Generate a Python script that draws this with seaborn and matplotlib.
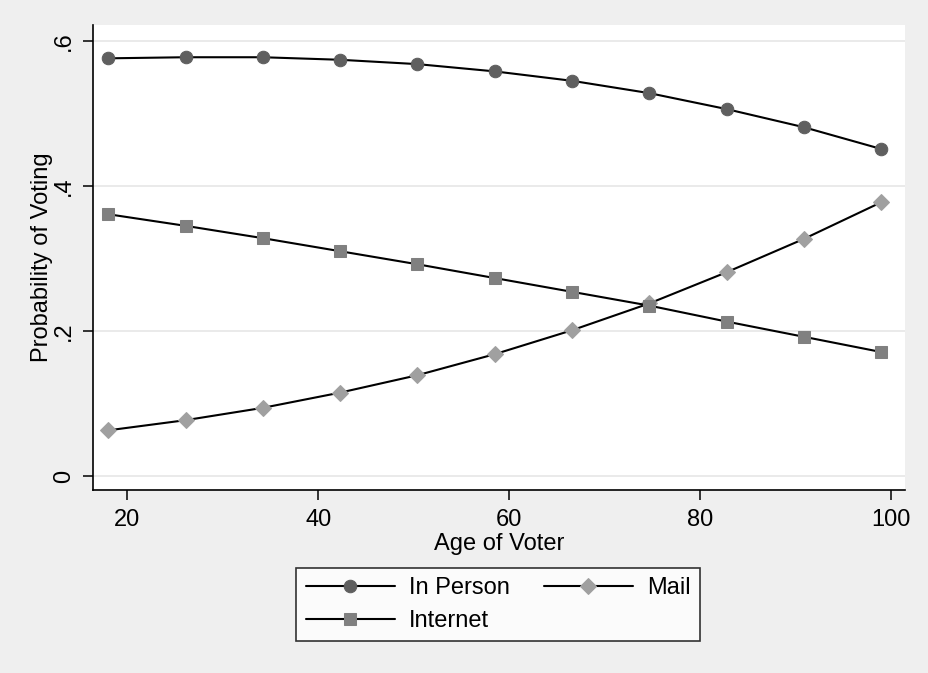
import numpy as np
import pandas as pd
import seaborn as sns
import matplotlib.pyplot as plt

# predicted probabilities by age
age = [18, 26.1, 34.2, 42.3, 50.4, 58.5, 66.6, 74.7, 82.8, 90.9, 99]
in_person = [0.576, 0.5775, 0.5775, 0.574, 0.568, 0.558, 0.545, 0.528, 0.506, 0.481, 0.451]
mail = [0.063, 0.077, 0.094, 0.115, 0.139, 0.168, 0.201, 0.238, 0.281, 0.327, 0.3775]
internet = [0.361, 0.345, 0.328, 0.310, 0.292, 0.273, 0.254, 0.235, 0.213, 0.192, 0.171]

y_ticks = [0, 0.2, 0.4, 0.6]
y_labels = ['0', '.2', '.4', '.6']
x_ticks = [20, 40, 60, 80, 100]

df = pd.DataFrame({'Age': age, 'In Person': in_person, 'Mail': mail, 'Internet': internet})

sns.set_style('white')
plt.rcParams['font.family'] = ['Liberation Sans', 'DejaVu Sans']
plt.rcParams['text.color'] = 'black'
plt.rcParams['axes.labelcolor'] = 'black'
plt.rcParams['xtick.color'] = 'black'
plt.rcParams['ytick.color'] = 'black'
fs = 17

fig = plt.figure(figsize=(9.29, 6.73), dpi=100, facecolor='#efefef')
ax = fig.add_axes([0.1001, 0.2719, 0.8741, 0.691])
ax.set_facecolor('white')

styles = {
    'In Person': dict(marker='o', color='#5f5f5f', ms=9),
    'Mail': dict(marker='D', color='#a0a0a0', ms=8),
    'Internet': dict(marker='s', color='#808080', ms=8.5),
}

for name, st in styles.items():
    sns.lineplot(
        data=df, x='Age', y=name, ax=ax,
        color='black', linewidth=1.5,
        marker=st['marker'], markersize=st['ms'],
        markerfacecolor=st['color'], markeredgecolor=st['color'],
        label=name, zorder=3
    )

ax.set_xlim(16.4, 101.5)
ax.set_ylim(-0.0193, 0.622)
ax.set_xticks(x_ticks)
ax.set_yticks(y_ticks)
ax.set_yticklabels(y_labels, rotation=90, va='center')
ax.grid(axis='y', color='#e6e6e6', linewidth=1.2)
ax.grid(axis='x', visible=False)

for s in ['top', 'right']:
    ax.spines[s].set_visible(False)
for s in ['left', 'bottom']:
    ax.spines[s].set_color('black')
    ax.spines[s].set_linewidth(1.2)

ax.tick_params(axis='both', direction='out', length=7, width=1.1, color='black',
               labelcolor='black', labelsize=fs, bottom=True, left=True)
ax.tick_params(axis='x', pad=7)
ax.tick_params(axis='y', pad=6)

ax.set_xlabel('Age of Voter', fontsize=fs, labelpad=1)
ax.set_ylabel('Probability of Voting', fontsize=fs, labelpad=0)

handles, labels = ax.get_legend_handles_labels()
ax.get_legend().remove()
order = [0, 2, 1]
leg = fig.legend(
    [handles[i] for i in order], [labels[i] for i in order],
    ncol=2, loc='center', bbox_to_anchor=(498 / 929, 1 - 604.5 / 673),
    fontsize=fs, frameon=True, fancybox=False, edgecolor='black',
    facecolor='white', handlelength=3.77, handletextpad=0.6,
    columnspacing=1.44, numpoints=1, borderpad=0.4, labelspacing=0.45
)
leg.get_frame().set_linewidth(1.2)

plt.savefig('out.png', dpi=100, facecolor=fig.get_facecolor())
